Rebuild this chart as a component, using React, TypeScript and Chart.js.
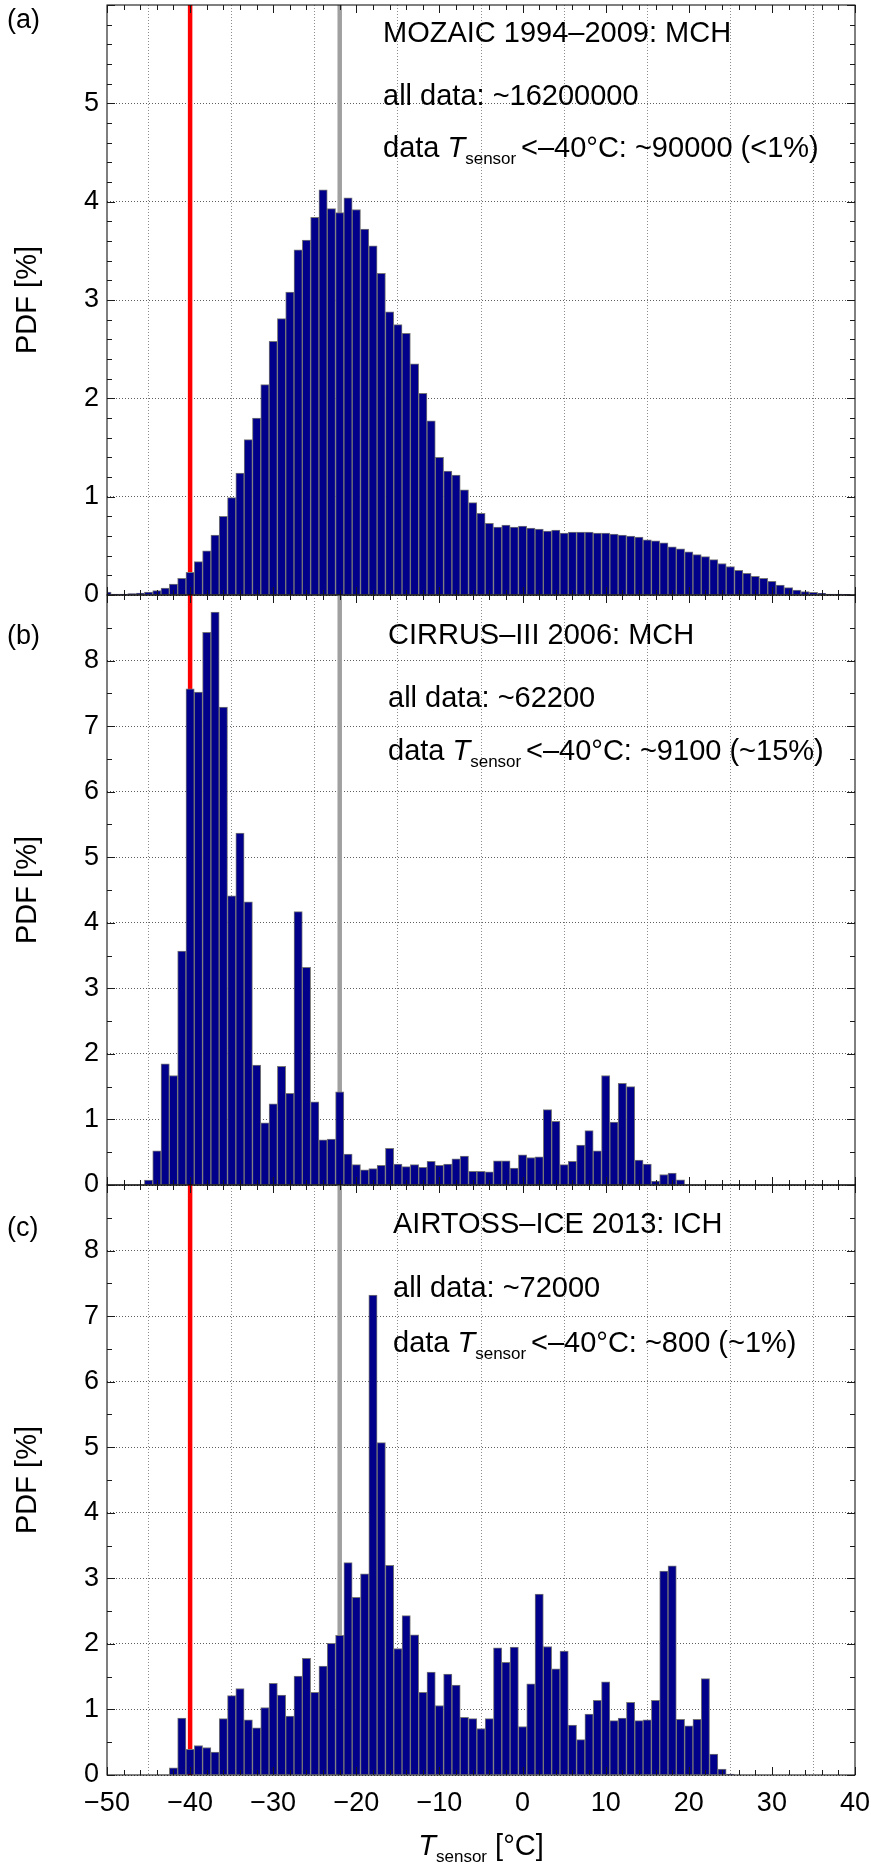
import { useEffect, useRef } from "react";
import { Chart, registerables } from "chart.js";

Chart.register(...registerables);

const FONT = '"Liberation Sans", Arial, Helvetica, sans-serif';
Chart.defaults.font.family = FONT;

// bin centres (°C) and PDF values (%)
const MOZAIC_T = [
  -50, -49, -48, -47, -46, -45, -44, -43, -42, -41,
  -40, -39, -38, -37, -36, -35, -34, -33, -32, -31,
  -30, -29, -28, -27, -26, -25, -24, -23, -22, -21,
  -20, -19, -18, -17, -16, -15, -14, -13, -12, -11,
  -10, -9, -8, -7, -6, -5, -4, -3, -2, -1,
  0, 1, 2, 3, 4, 5, 6, 7, 8, 9,
  10, 11, 12, 13, 14, 15, 16, 17, 18, 19,
  20, 21, 22, 23, 24, 25, 26, 27, 28, 29,
  30, 31, 32, 33, 34, 35, 36, 37, 38, 39,
];
const MOZAIC_PDF = [
  0.03, 0.01, 0.01, 0.015, 0.02, 0.03, 0.045, 0.07, 0.11, 0.17,
  0.23, 0.34, 0.45, 0.61, 0.8, 0.99, 1.24, 1.58, 1.8, 2.14,
  2.58, 2.81, 3.08, 3.51, 3.61, 3.84, 4.12, 3.93, 3.89, 4.04,
  3.92, 3.72, 3.55, 3.27, 2.88, 2.75, 2.66, 2.35, 2.05, 1.77,
  1.4, 1.26, 1.22, 1.07, 0.94, 0.83, 0.73, 0.69, 0.71, 0.69,
  0.7, 0.68, 0.67, 0.65, 0.66, 0.63, 0.64, 0.64, 0.64, 0.63,
  0.63, 0.62, 0.61, 0.6, 0.59, 0.56, 0.55, 0.53, 0.49, 0.47,
  0.44, 0.41, 0.39, 0.36, 0.32, 0.29, 0.25, 0.22, 0.19, 0.17,
  0.14, 0.1, 0.075, 0.05, 0.034, 0.027, 0.017, 0.01, 0.01, 0.004,
];

const CIRRUS_T = [
  -45, -44, -43, -42, -41, -40, -39, -38, -37, -36,
  -35, -34, -33, -32, -31, -30, -29, -28, -27, -26,
  -25, -24, -23, -22, -21, -20, -19, -18, -17, -16,
  -15, -14, -13, -12, -11, -10, -9, -8, -7, -6,
  -5, -4, -3, -2, -1, 0, 1, 2, 3, 4,
  5, 6, 7, 8, 9, 10, 11, 12, 13, 14,
  15, 16, 17, 18, 19,
];
const CIRRUS_PDF = [
  0.076, 0.52, 1.85, 1.67, 3.57, 7.57, 7.52, 8.43, 8.74, 7.29,
  4.41, 5.37, 4.32, 1.83, 0.95, 1.24, 1.81, 1.4, 4.17, 3.32,
  1.27, 0.69, 0.7, 1.42, 0.47, 0.31, 0.23, 0.25, 0.3, 0.56,
  0.32, 0.28, 0.31, 0.27, 0.36, 0.3, 0.32, 0.4, 0.44, 0.21,
  0.21, 0.2, 0.37, 0.37, 0.26, 0.46, 0.42, 0.43, 1.15, 0.97,
  0.31, 0.36, 0.61, 0.83, 0.52, 1.67, 0.96, 1.55, 1.5, 0.38,
  0.32, 0.06, 0.16, 0.18, 0.08,
];

const AIRTOSS_T = [
  -42, -41, -40, -39, -38, -37, -36, -35, -34, -33,
  -32, -31, -30, -29, -28, -27, -26, -25, -24, -23,
  -22, -21, -20, -19, -18, -17, -16, -15, -14, -13,
  -12, -11, -10, -9, -8, -7, -6, -5, -4, -3,
  -2, -1, 0, 1, 2, 3, 4, 5, 6, 7,
  8, 9, 10, 11, 12, 13, 14, 15, 16, 17,
  18, 19, 20, 21, 22, 23, 24, 25,
];
const AIRTOSS_PDF = [
  0.11, 0.87, 0.39, 0.45, 0.42, 0.35, 0.86, 1.21, 1.32, 0.84,
  0.72, 1.03, 1.4, 1.22, 0.9, 1.51, 1.78, 1.26, 1.66, 2.01,
  2.13, 3.24, 2.71, 3.07, 7.32, 5.07, 3.2, 1.93, 2.43, 2.14,
  1.26, 1.57, 1.06, 1.54, 1.37, 0.88, 0.86, 0.71, 0.86, 1.94,
  1.72, 1.95, 0.74, 1.39, 2.76, 1.96, 1.62, 1.89, 0.76, 0.54,
  0.93, 1.14, 1.42, 0.83, 0.87, 1.11, 0.83, 0.84, 1.14, 3.11,
  3.19, 0.85, 0.75, 0.85, 1.47, 0.32, 0.09, 0.015,
];

const X_MIN = -50;
const X_MAX = 40;
const X_MINOR = 2;
const T_HOMOGENEOUS = -40; // red line
const T_GREY = -22; // grey line

type Seg = { text: string; italic?: boolean; sub?: boolean };

const TEXT_SIZE = 29;
const SUB_SIZE = 17;

function drawRich(ctx: CanvasRenderingContext2D, x: number, y: number, segs: Seg[], measureOnly = false) {
  let cx = x;
  for (const s of segs) {
    const size = s.sub ? SUB_SIZE : TEXT_SIZE;
    ctx.font = `${s.italic ? "italic " : ""}${size}px ${FONT}`;
    if (!measureOnly) ctx.fillText(s.text, cx, s.sub ? y + 7 : y);
    cx += ctx.measureText(s.text).width;
  }
  return cx - x;
}

interface PanelProps {
  temps: number[];
  pdf: number[];
  yMax: number;
  yMinor: number;
  tag: string;
  tagBaseline: number;
  lines: Seg[][];
  textX: number;
  baselines: number[];
  canvasTop: number;
  canvasHeight: number;
  padTop: number;
  padBottom: number;
  bottomPanel?: boolean;
}

function Panel(p: PanelProps) {
  const ref = useRef<HTMLCanvasElement>(null);

  useEffect(() => {
    if (!ref.current) return;
    const off = p.canvasTop;

    const overlay = {
      id: "overlay",
      beforeDatasetsDraw(chart: Chart) {
        const { ctx, chartArea: a } = chart;
        const xs = chart.scales.x;
        ctx.save();
        ctx.beginPath();
        ctx.rect(a.left, a.top, a.right - a.left, a.bottom - a.top);
        ctx.clip();
        const refs: [number, string][] = [
          [T_HOMOGENEOUS, "#ff0000"],
          [T_GREY, "#a0a0a0"],
        ];
        for (const [t, c] of refs) {
          const x = xs.getPixelForValue(t);
          ctx.strokeStyle = c;
          ctx.lineWidth = 4.5;
          ctx.beginPath();
          ctx.moveTo(x, a.top);
          ctx.lineTo(x, a.bottom);
          ctx.stroke();
        }
        ctx.restore();
      },
      afterDraw(chart: Chart) {
        const { ctx, chartArea: a } = chart;
        const xs = chart.scales.x;
        const ys = chart.scales.y;
        ctx.save();
        // frame
        ctx.strokeStyle = "#000";
        ctx.lineWidth = 1;
        ctx.strokeRect(a.left, a.top, a.right - a.left, a.bottom - a.top);
        // inward ticks
        ctx.strokeStyle = "#1a1a1a";
        ctx.beginPath();
        for (let t = X_MIN; t <= X_MAX; t += X_MINOR) {
          const x = Math.round(xs.getPixelForValue(t)) + 0.5;
          const len = t % 10 === 0 ? 8 : 5;
          ctx.moveTo(x, a.top);
          ctx.lineTo(x, a.top + len);
          ctx.moveTo(x, a.bottom);
          ctx.lineTo(x, a.bottom - len);
        }
        const n = Math.round(p.yMax / p.yMinor);
        for (let i = 0; i <= n; i++) {
          const v = i * p.yMinor;
          const y = Math.round(ys.getPixelForValue(v)) + 0.5;
          const len = Math.abs(v - Math.round(v)) < 1e-6 ? 8 : 5;
          ctx.moveTo(a.left, y);
          ctx.lineTo(a.left + len, y);
          ctx.moveTo(a.right, y);
          ctx.lineTo(a.right - len, y);
        }
        ctx.stroke();

        // annotation text
        ctx.fillStyle = "#000";
        ctx.textAlign = "left";
        ctx.textBaseline = "alphabetic";
        p.lines.forEach((segs, i) => drawRich(ctx, p.textX, p.baselines[i] - off, segs));

        // panel tag
        ctx.font = `27px ${FONT}`;
        ctx.fillText(p.tag, 7, p.tagBaseline - off);

        // x-axis title
        if (p.bottomPanel) {
          const title: Seg[] = [
            { text: "T", italic: true },
            { text: "sensor", sub: true },
            { text: " [°C]" },
          ];
          const w = drawRich(ctx, 0, 0, title, true);
          const cx = (a.left + a.right) / 2;
          drawRich(ctx, cx - w / 2, 1855 - off, title);
        }
        ctx.restore();
      },
    };

    const chart = new Chart(ref.current, {
      type: "bar",
      data: {
        datasets: [
          {
            data: p.temps.map((t, i) => ({ x: t, y: p.pdf[i] })),
            backgroundColor: "#00008b",
            borderColor: "#767676",
            borderWidth: 1,
            barPercentage: 1,
            categoryPercentage: 1,
          },
        ],
      },
      options: {
        responsive: false,
        animation: false,
        layout: {
          autoPadding: false,
          padding: { top: p.padTop, bottom: p.padBottom, left: 0, right: 16 },
        },
        plugins: { legend: { display: false }, tooltip: { enabled: false } },
        scales: {
          x: {
            type: "linear",
            min: X_MIN,
            max: X_MAX,
            offset: false,
            afterFit: (s: any) => {
              s.height = p.bottomPanel ? 90 : 0;
              s.paddingLeft = 0;
              s.paddingRight = 0;
            },
            grid: { color: "#8c8c8c", lineWidth: 1, drawTicks: false },
            border: { display: false, dash: [1, 2] },
            ticks: {
              display: !!p.bottomPanel,
              stepSize: 10,
              autoSkip: false,
              maxRotation: 0,
              padding: 12,
              color: "#000",
              font: { size: 27, family: FONT },
              callback: (v: any) => (Number(v) < 0 ? "\u2212" + Math.abs(Number(v)) : String(v)),
            },
          },
          y: {
            min: 0,
            max: p.yMax,
            afterFit: (s: any) => {
              s.width = 107;
              s.paddingTop = 0;
              s.paddingBottom = 0;
            },
            grid: { color: "#5e5e5e", lineWidth: 1, drawTicks: false },
            border: { display: false, dash: [1, 2] },
            ticks: {
              stepSize: 1,
              padding: 8,
              color: "#000",
              font: { size: 27, family: FONT },
              callback: (v: any) => (Number(v) === p.yMax ? null : String(v)),
            },
            title: {
              display: true,
              text: "PDF [%]",
              color: "#000",
              font: { size: 29, family: FONT },
              padding: { top: 11, bottom: 0 },
            },
          },
        },
      },
      plugins: [overlay],
    } as any);

    return () => chart.destroy();
  }, []);

  return (
    <canvas
      ref={ref}
      width={871}
      height={p.canvasHeight}
      style={{ position: "absolute", left: 0, top: p.canvasTop, display: "block" }}
    />
  );
}

const lowLine = (rest: string): Seg[] => [
  { text: "data " },
  { text: "T", italic: true },
  { text: "sensor ", sub: true },
  { text: rest },
];

export default function App() {
  return (
    <div style={{ position: "absolute", left: 0, top: 0, width: 871, height: 1865, background: "#fff" }}>
      <Panel
        temps={MOZAIC_T}
        pdf={MOZAIC_PDF}
        yMax={6}
        yMinor={0.2}
        tag="(a)"
        tagBaseline={28}
        textX={383}
        baselines={[42, 105, 157]}
        lines={[
          [{ text: "MOZAIC 1994\u20132009: MCH" }],
          [{ text: "all data: ~16200000" }],
          lowLine("<\u201340°C: ~90000 (<1%)"),
        ]}
        canvasTop={0}
        canvasHeight={620}
        padTop={5}
        padBottom={25}
      />
      <Panel
        temps={CIRRUS_T}
        pdf={CIRRUS_PDF}
        yMax={9}
        yMinor={0.5}
        tag="(b)"
        tagBaseline={644}
        textX={388}
        baselines={[644, 707, 760]}
        lines={[
          [{ text: "CIRRUS\u2013III 2006: MCH" }],
          [{ text: "all data: ~62200" }],
          lowLine("<\u201340°C: ~9100 (~15%)"),
        ]}
        canvasTop={590}
        canvasHeight={620}
        padTop={5}
        padBottom={25}
      />
      <Panel
        temps={AIRTOSS_T}
        pdf={AIRTOSS_PDF}
        yMax={9}
        yMinor={0.5}
        tag="(c)"
        tagBaseline={1236}
        textX={393}
        baselines={[1233, 1297, 1352]}
        lines={[
          [{ text: "AIRTOSS\u2013ICE 2013: ICH" }],
          [{ text: "all data: ~72000" }],
          lowLine("<\u201340°C: ~800 (~1%)"),
        ]}
        canvasTop={1180}
        canvasHeight={685}
        padTop={5}
        padBottom={0}
        bottomPanel
      />
    </div>
  );
}
